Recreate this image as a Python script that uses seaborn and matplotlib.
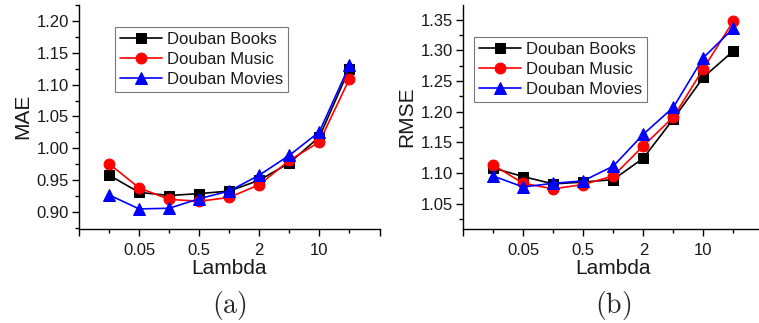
import numpy as np
import pandas as pd
import matplotlib
matplotlib.use("Agg")
import matplotlib.pyplot as plt
import seaborn as sns
from matplotlib.ticker import FixedLocator, MultipleLocator, FixedFormatter

sns.set_theme(style="ticks")
plt.rcParams['font.family'] = ['Liberation Sans', 'DejaVu Sans']
plt.rcParams['mathtext.fontset'] = 'cm'

positions = [1, 2, 3, 4, 5, 6, 7, 8, 9]
tick_positions = [0, 2, 4, 6, 8, 10]
tick_labels = ["", "0.05", "0.5", "2", "10", ""]
series_names = ["Douban Books", "Douban Music", "Douban Movies"]

mae_books = [0.958, 0.931, 0.926, 0.929, 0.933, 0.950, 0.977, 1.018, 1.125]
mae_music = [0.976, 0.938, 0.920, 0.917, 0.923, 0.943, 0.981, 1.010, 1.109]
mae_movies = [0.927, 0.905, 0.906, 0.921, 0.933, 0.958, 0.989, 1.026, 1.130]

rmse_books = [1.108, 1.094, 1.082, 1.085, 1.089, 1.124, 1.188, 1.256, 1.299]
rmse_music = [1.113, 1.083, 1.074, 1.081, 1.095, 1.144, 1.191, 1.270, 1.348]
rmse_movies = [1.095, 1.077, 1.083, 1.087, 1.111, 1.163, 1.207, 1.288, 1.336]

colors = {"Douban Books": "black", "Douban Music": "red", "Douban Movies": "blue"}
markers = {"Douban Books": "s", "Douban Music": "o", "Douban Movies": "^"}
msizes = {"Douban Books": 6.5, "Douban Music": 7.8, "Douban Movies": 8}


def make_df(a, b, c):
    rows = []
    for name, vals in zip(series_names, [a, b, c]):
        for p, v in zip(positions, vals):
            rows.append({"x": p, "y": v, "series": name})
    return pd.DataFrame(rows)


fig = plt.figure(figsize=(7.59, 3.23), dpi=100)
ax1 = fig.add_axes([0.104, 0.292, 0.396, 0.693])
ax2 = fig.add_axes([0.610, 0.292, 0.396, 0.693])

panels = [
    (ax1, make_df(mae_books, mae_music, mae_movies), "MAE", (0.874, 1.225),
     [0.90, 0.95, 1.00, 1.05, 1.10, 1.15, 1.20], (0.12, 0.90)),
    (ax2, make_df(rmse_books, rmse_music, rmse_movies), "RMSE", (1.009, 1.374),
     [1.05, 1.10, 1.15, 1.20, 1.25, 1.30, 1.35], (0.037, 0.857)),
]

for ax, df, ylabel, ylim, yt, legpos in panels:
    for name in series_names:
        sub = df[df["series"] == name]
        sns.lineplot(data=sub, x="x", y="y", ax=ax, color=colors[name],
                     marker=markers[name], markersize=msizes[name],
                     markeredgecolor=colors[name], linewidth=1.2, label=name)
    ax.set_xlim(0, 10)
    ax.set_ylim(*ylim)
    ax.xaxis.set_major_locator(FixedLocator(tick_positions))
    ax.xaxis.set_major_formatter(FixedFormatter(tick_labels))
    ax.xaxis.set_minor_locator(FixedLocator([1, 3, 5, 7, 9]))
    ax.set_yticks(yt)
    ax.set_yticklabels([f"{v:.2f}" for v in yt])
    ax.yaxis.set_minor_locator(MultipleLocator(0.025))
    ax.tick_params(axis="both", which="major", direction="out", length=5, width=1,
                   labelsize=12, color="black", labelcolor="#1a1a1a", pad=2)
    ax.tick_params(axis="both", which="minor", direction="out", length=3, width=1, color="black")
    ax.tick_params(axis="x", which="major", pad=5)
    sns.despine(ax=ax)
    for s in ["left", "bottom"]:
        ax.spines[s].set_linewidth(1.0)
        ax.spines[s].set_color("black")
    ax.set_xlabel("Lambda", fontsize=15, labelpad=1, color="#1a1a1a")
    ax.set_ylabel(ylabel, fontsize=15, labelpad=3, color="#1a1a1a")
    ax.set_facecolor("white")
    leg = ax.legend(loc="upper left", bbox_to_anchor=legpos,
                    frameon=True, fancybox=False, fontsize=12, handlelength=2.5,
                    borderpad=0.3, labelspacing=0.3, handletextpad=0.3, borderaxespad=0)
    leg.get_frame().set_edgecolor("#555555")
    leg.get_frame().set_linewidth(0.8)
    for t in leg.get_texts():
        t.set_color("#1a1a1a")

fig.text(0.302, 0.03, r"$\mathrm{(a)}$", ha="center", va="baseline", fontsize=20)
fig.text(0.808, 0.03, r"$\mathrm{(b)}$", ha="center", va="baseline", fontsize=20)

fig.savefig("out.png", dpi=100, facecolor="white")
